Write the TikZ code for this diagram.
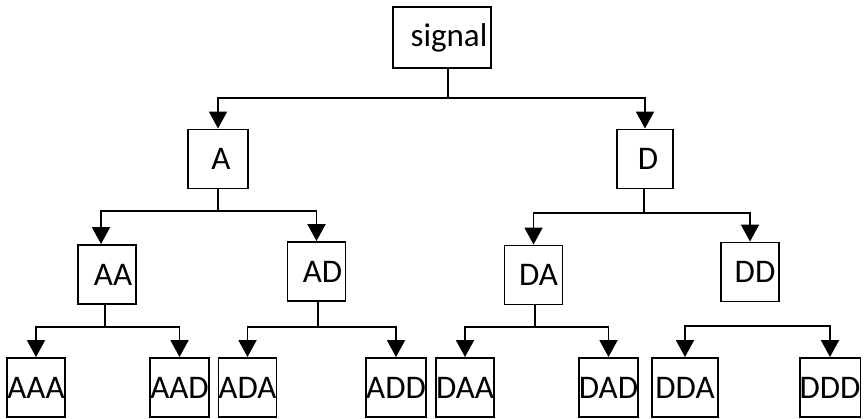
\documentclass[tikz,border=0pt]{standalone}
\usepackage{fontspec}
\setmainfont{Carlito}
\usetikzlibrary{arrows.meta,positioning}

\begin{document}
\begin{tikzpicture}[x=1pt, y=-1pt, ->, >={Triangle[width=18pt,length=17pt]}, line width=1.9pt,
	blk/.style={rectangle, draw, minimum width=58pt, minimum height=59pt, inner sep=0pt, font=\fontsize{33}{33}\selectfont}]
	\useasboundingbox (0,0) rectangle (865,419);
	% levels
	\node[blk, minimum width=98pt, minimum height=61pt] (signal) at (442,37.5) {\hspace*{14pt}signal};
	\node[blk, minimum width=60pt] (A) at (218,159) {\hspace*{6pt}A};
	\node[blk, minimum width=56pt] (D) at (645,159) {\hspace*{6pt}D};
	\node[blk] (AA) at (107,274.5) {\hspace*{12pt}AA};
	\node[blk] (AD) at (316.5,271.5) {\hspace*{12pt}AD};
	\node[blk] (DA) at (533.5,275) {\hspace*{10pt}DA};
	\node[blk] (DD) at (750,272) {\hspace*{10pt}DD};
	% leaves
	\node[blk] (AAA) at (36,387.5)    {AAA};
	\node[blk] (AAD) at (179.5,387.5) {AAD};
	\node[blk] (ADA) at (247.5,387.5) {ADA};
	\node[blk] (ADD) at (396,387.5)   {ADD};
	\node[blk] (DAA) at (465,387.5)   {DAA};
	\node[blk] (DAD) at (608.5,387.5) {DAD};
	\node[blk, minimum width=66pt] (DDA) at (685,387.5) {DDA};
	\node[blk] (DDD) at (830,387.5)   {DDD};

	\coordinate (j0)  at (448,98);
	\coordinate (jA)  at (218,211);
	\coordinate (jD)  at (644,213);
	\coordinate (jAA) at (105,327);
	\coordinate (jAD) at (318,327);
	\coordinate (jDA) at (535,327);
	\coordinate (jDD) at (755,326);

	\draw[-] (signal.south -| j0) -- (j0);
	\draw (j0) -| (A);
	\draw (j0) -| (D);
	\draw[-] (A) -- (jA);
	\draw (jA) -| ([xshift=-6pt]AA.north);
	\draw (jA) -| (AD);
	\draw[-] (D.south -| jD) -- (jD);
	\draw (jD) -| (DA);
	\draw (jD) -| (DD);
	\draw[-] (AA.south -| jAA) -- (jAA);
	\draw (jAA) -| (AAA);
	\draw (jAA) -| (AAD);
	\draw[-] (AD.south -| jAD) -- (jAD);
	\draw (jAD) -| (ADA);
	\draw (jAD) -| (ADD);
	\draw[-] (DA.south -| jDA) -- (jDA);
	\draw (jDA) -| (DAA);
	\draw (jDA) -| (DAD);
	\draw (jDD) -| (DDA);
	\draw (jDD) -| (DDD);
\end{tikzpicture}
\end{document}
